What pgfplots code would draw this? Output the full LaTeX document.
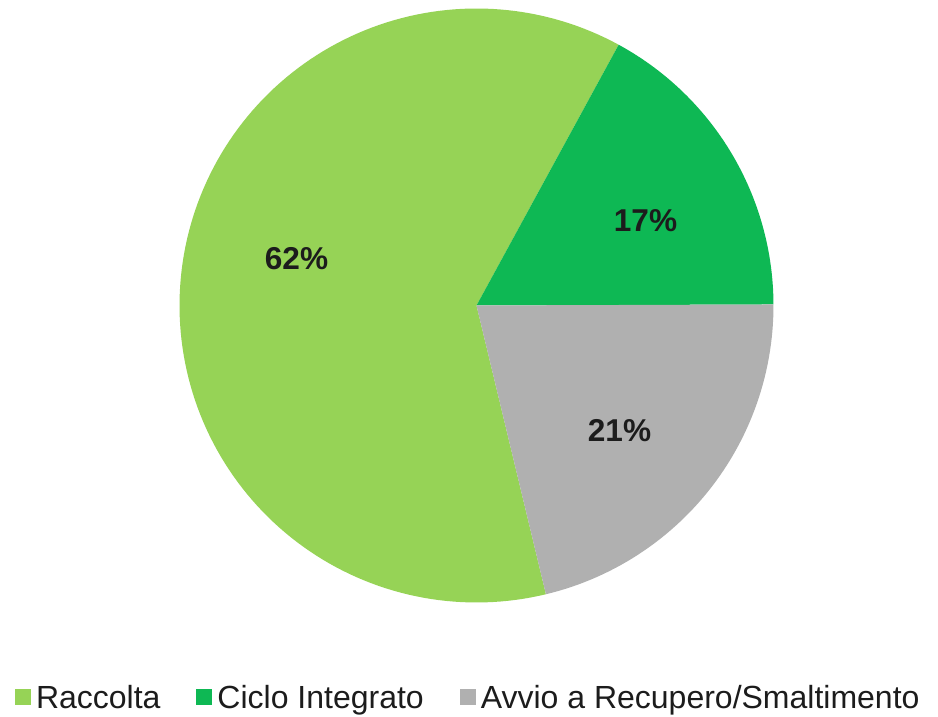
\documentclass[border=0pt]{standalone}
\usepackage{fontspec}
\setmainfont{Liberation Sans}
\usepackage{pgfplots}
\usepackage{pgfplotstable}
\pgfplotsset{compat=1.18}
\definecolor{cRac}{RGB}{150,211,86}
\definecolor{cCic}{RGB}{14,184,84}
\definecolor{cAvv}{RGB}{176,176,176}
\definecolor{ctext}{RGB}{28,28,28}
\pgfplotstableread[col sep=comma]{
label,value
Raccolta,61.7
Ciclo Integrato,17.0
Avvio a Recupero/Smaltimento,21.3
}\piedata
\pgfplotstablegetelem{0}{value}\of\piedata\let\vRac\pgfplotsretval
\pgfplotstablegetelem{1}{value}\of\piedata\let\vCic\pgfplotsretval
\pgfplotstablegetelem{2}{value}\of\piedata\let\vAvv\pgfplotsretval
\pgfmathsetmacro{\aA}{0.2}
\pgfmathsetmacro{\aB}{\aA+3.6*\vCic}
\pgfmathsetmacro{\aC}{\aB+3.6*\vRac}
\pgfmathsetmacro{\aD}{\aC+3.6*\vAvv}
\begin{document}
\begin{tikzpicture}
\begin{axis}[
  scale only axis, width=469pt, height=358.5pt,
  xmin=0, xmax=938, ymin=0, ymax=717,
  hide axis, clip=false,
  legend columns=3,
  legend image code/.code={\fill[#1] (0pt,-3pt) rectangle (8pt,5pt);},
  legend style={draw=none, fill=none, inner sep=0pt, outer sep=0pt,
    at={(axis cs:15,5.3)}, anchor=south west,
    font=\fontsize{16}{19}\selectfont, text=ctext,
    nodes={inner sep=0pt, outer sep=0pt},
    /tikz/every even column/.append style={column sep=18pt},
    /tikz/every odd column/.append style={column sep=2.5pt}},
]
\coordinate (BL) at (axis cs:0,0);
\coordinate (TR) at (axis cs:938,717);
\addplot[fill=cRac, draw=none, domain=\aB:\aC, samples=150, variable=\t]
  ({476.5+297*cos(\t)},{411.5+297*sin(\t)}) -- (axis cs:476.5,411.5) -- cycle;
\addlegendentry{Raccolta}
\addplot[fill=cCic, draw=none, domain=\aA:\aB, samples=60, variable=\t]
  ({476.5+297*cos(\t)},{411.5+297*sin(\t)}) -- (axis cs:476.5,411.5) -- cycle;
\addlegendentry{Ciclo Integrato}
\addplot[fill=cAvv, draw=none, domain=\aC:\aD, samples=60, variable=\t]
  ({476.5+297*cos(\t)},{411.5+297*sin(\t)}) -- (axis cs:476.5,411.5) -- cycle;
\addlegendentry{Avvio a Recupero/Smaltimento}
\node[font=\bfseries\fontsize{15.8}{19}\selectfont, text=ctext] at (axis cs:296.5,458) {62\%};
\node[font=\bfseries\fontsize{15.8}{19}\selectfont, text=ctext] at (axis cs:645.5,496.5) {17\%};
\node[font=\bfseries\fontsize{15.8}{19}\selectfont, text=ctext] at (axis cs:619.5,286) {21\%};
\end{axis}
\pgfresetboundingbox
\path[use as bounding box] (BL) rectangle (TR);
\end{tikzpicture}
\end{document}
